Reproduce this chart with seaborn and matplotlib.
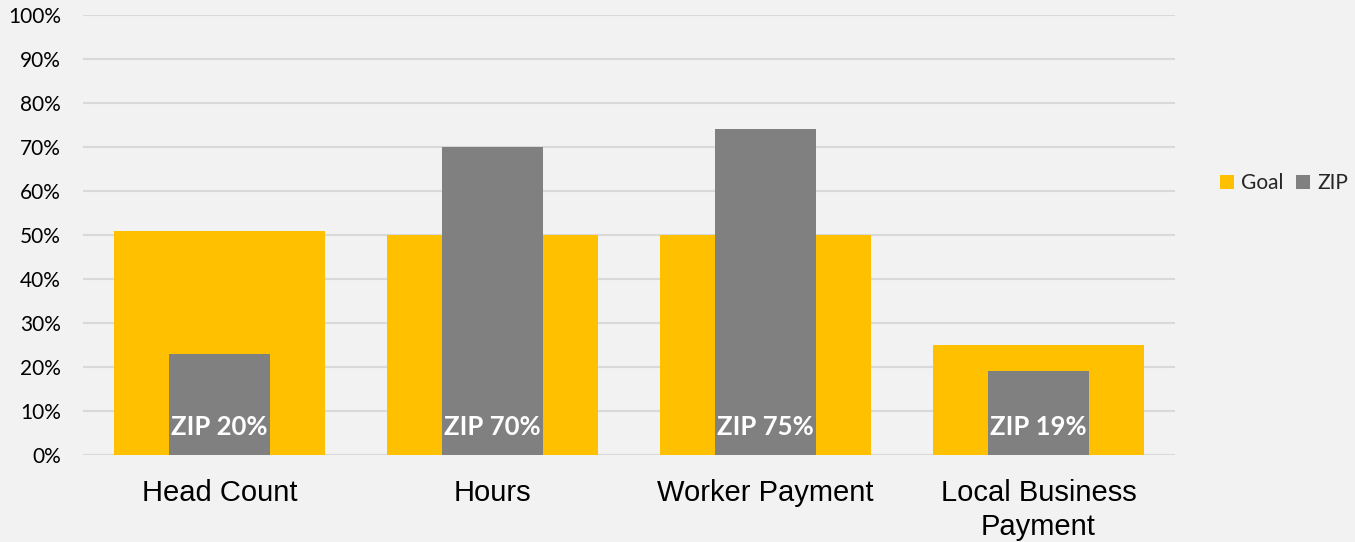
import matplotlib
matplotlib.use("Agg")
import matplotlib.pyplot as plt
import seaborn as sns
import pandas as pd
from matplotlib.patches import Patch

categories = ["Head Count", "Hours", "Worker Payment", "Local Business\nPayment"]
goal_values = [51, 50, 50, 25]
zip_values = [23, 70, 74, 19]
zip_labels = ["ZIP 20%", "ZIP 70%", "ZIP 75%", "ZIP 19%"]
y_ticks = [0, 10, 20, 30, 40, 50, 60, 70, 80, 90, 100]
y_tick_labels = [f"{v}%" for v in y_ticks]

GOLD = "#FFC000"
GRAY = "#808080"
BG = "#F2F2F2"

sns.set_theme(style="white")
plt.rcParams["font.family"] = ["Lato", "DejaVu Sans"]

df = pd.DataFrame({"category": categories, "Goal": goal_values, "ZIP": zip_values})

fig = plt.figure(figsize=(13.55, 5.42), dpi=100, facecolor=BG)
ax = fig.add_axes([83 / 1355, 87 / 542, 1092 / 1355, 440 / 542])
ax.set_facecolor(BG)

sns.barplot(data=df, x="category", y="Goal", color=GOLD, width=0.773,
            saturation=1, ax=ax, zorder=2, linewidth=0, edgecolor="none")
sns.barplot(data=df, x="category", y="ZIP", color=GRAY, width=0.37,
            saturation=1, ax=ax, zorder=3, linewidth=0, edgecolor="none")

for i, lab in enumerate(zip_labels):
    ax.text(i, 6.4, lab, ha="center", va="center", color="white",
            fontsize=18.5, fontweight="bold", family=["Lato", "DejaVu Sans"], zorder=4)

ax.set_xlim(-0.5, 3.5)
ax.set_ylim(0, 100)
ax.set_yticks(y_ticks)
ax.set_yticklabels(y_tick_labels, fontsize=15, color="#000000")
ax.yaxis.grid(True, color="#D9D9D9", linewidth=1.5, zorder=0)
ax.set_axisbelow(True)
ax.tick_params(axis="y", length=0, pad=16)
ax.tick_params(axis="x", length=0, pad=17)
for lbl in ax.get_xticklabels():
    lbl.set_family(["Liberation Sans", "DejaVu Sans"])
    lbl.set_fontsize(21)
    lbl.set_color("#000000")
    lbl.set_linespacing(1.3)
ax.set_xlabel("")
ax.set_ylabel("")
for s in ax.spines.values():
    s.set_visible(False)

handles = [Patch(facecolor=GOLD, edgecolor="none", label="Goal"),
           Patch(facecolor=GRAY, edgecolor="none", label="ZIP")]
fig.legend(handles=handles, loc="center", bbox_to_anchor=(1284 / 1355, 1 - 183 / 542),
           ncol=2, frameon=False, fontsize=15, handlelength=0.65, handleheight=0.65,
           handletextpad=0.35, columnspacing=0.6)

fig.savefig("out.png", dpi=100, facecolor=BG)
